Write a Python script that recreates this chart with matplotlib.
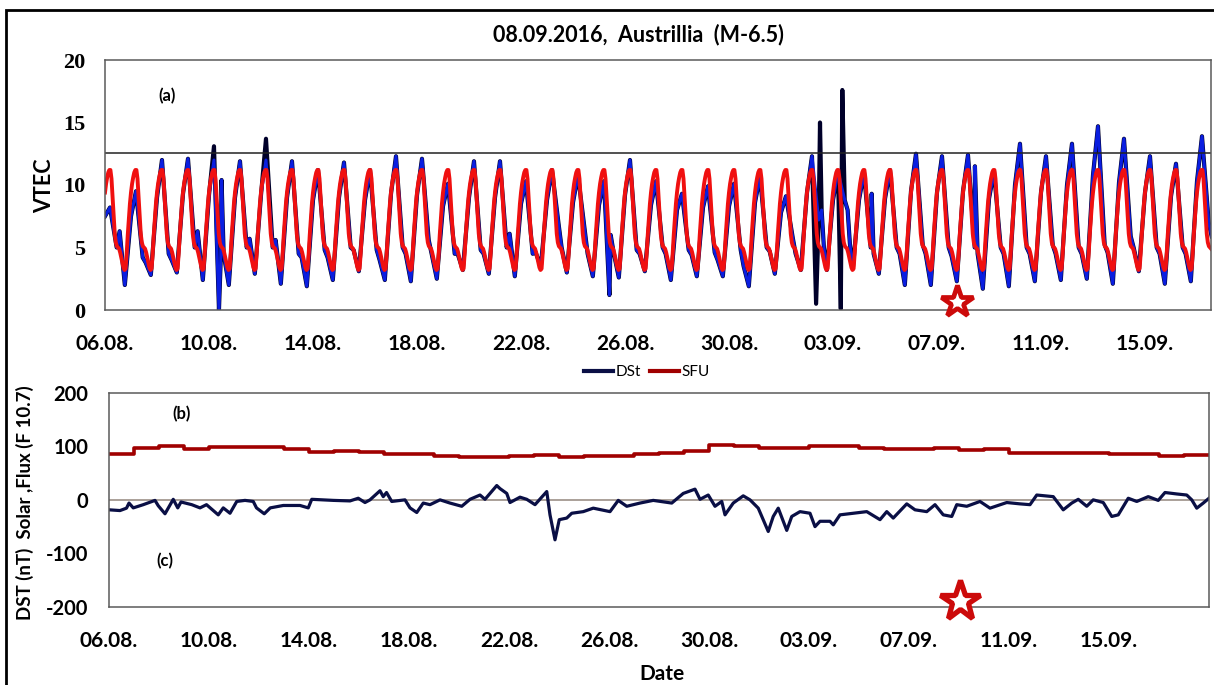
import numpy as np
import matplotlib
matplotlib.use('Agg')
import matplotlib.pyplot as plt
from matplotlib.lines import Line2D
from matplotlib.patches import Rectangle
from datetime import date, timedelta

W, H = 1214, 685
START = date(2016, 8, 6)
SANS = ['Lato', 'DejaVu Sans']

# mean diurnal VTEC (red curve), hourly 00..23 UT, repeated every day
mean_profile = [9.4, 10.1, 10.6, 11.0, 11.2, 11.2, 10.5, 9.0, 7.4, 6.1, 5.4, 5.1,
                5.0, 4.9, 4.6, 4.2, 3.8, 3.4, 3.2, 3.3, 4.5, 6.0, 7.3, 8.5]

# observed VTEC, read per day at these UT hours
vtec_hours = [0, 4.6, 10.8, 13.5, 18.3]
vtec_days = [
    [7.5, 8.2, 5.0, 6.3, 2.0], [7.5, 9.5, 4.2, 3.8, 2.8], [9.0, 12.0, 4.5, 4.0, 3.0],
    [9.3, 12.1, 5.0, 6.3, 2.4], [9.2, 12.0, 4.0, 4.5, 2.0], [9.0, 11.9, 5.0, 5.7, 2.9],
    [9.2, 12.0, 5.0, 5.6, 2.1], [9.0, 11.9, 4.5, 4.2, 1.9], [8.8, 11.2, 4.8, 4.2, 2.4],
    [9.0, 11.8, 5.0, 4.8, 3.1], [8.8, 11.2, 4.8, 4.0, 2.4], [9.3, 12.3, 5.0, 4.5, 2.3],
    [9.2, 12.1, 5.6, 4.5, 2.5], [8.3, 10.1, 4.5, 4.5, 3.2], [9.0, 11.9, 4.8, 4.5, 2.9],
    [9.0, 11.9, 5.0, 6.1, 2.7], [8.5, 10.3, 4.5, 4.6, 3.5], [8.8, 11.2, 6.8, 5.0, 3.0],
    [8.6, 10.8, 6.4, 4.5, 2.7], [8.4, 10.3, 6.0, 4.6, 2.6], [9.2, 12.0, 4.8, 4.5, 3.1],
    [8.4, 10.3, 5.0, 4.5, 2.4], [8.0, 9.3, 4.8, 4.4, 2.7], [8.2, 9.9, 4.6, 4.0, 2.7],
    [8.3, 10.1, 4.8, 3.5, 1.9], [8.6, 10.7, 5.0, 4.7, 2.9], [7.8, 9.1, 5.8, 4.5, 3.2],
    [9.4, 12.3, 7.2, 8.0, 3.2], [8.8, 11.1, 8.8, 8.0, 3.3], [8.8, 11.0, 5.0, 4.5, 2.9],
    [8.9, 11.2, 5.0, 4.5, 2.0], [9.5, 12.5, 5.2, 4.5, 2.0], [9.4, 12.3, 5.0, 4.3, 2.3],
    [9.5, 12.4, 5.0, 4.5, 1.7], [8.9, 11.1, 5.0, 4.5, 1.9], [10.0, 13.3, 5.0, 4.5, 2.3],
    [9.4, 12.3, 5.2, 4.5, 2.4], [10.0, 13.3, 5.0, 4.5, 2.5], [10.8, 14.7, 5.2, 4.6, 2.1],
    [10.2, 13.7, 5.9, 5.0, 3.1], [9.4, 12.3, 5.0, 4.5, 2.1], [9.1, 11.7, 5.0, 4.5, 2.3],
    [10.3, 13.9, 7.0, 5.9],
]
# (day, UT hour, value) spikes
common_extra = [(4, 9.2, 0.0), (4, 11.6, 10.4), (19, 9.6, 1.2), (27, 15.6, 5.0),
                (28, 15.6, 5.3), (29, 11.7, 9.3), (33, 11.0, 11.5)]
dark_extra = [(4, 4.6, 13.1), (6, 4.6, 13.7), (27, 8.4, 0.5), (27, 12.0, 15.0),
              (28, 7.2, 0.1), (28, 8.6, 17.6)]
vtec_hours_total = 1022
upper_line = 12.6

# solar flux F10.7, daily
sfu = [85, 96, 100, 95, 99, 99, 99, 94, 89, 92, 89, 85, 85, 82, 79.5, 79.5, 81, 84,
       79.5, 81, 82.6, 85, 88, 91, 103, 100.6, 97, 97, 100.6, 100.6, 97, 95, 95,
       97.4, 93, 95.7, 87, 87, 87, 87, 85, 85, 81.4, 84]

# Dst index (day offset, nT)
dst_t = [0.00, 0.44, 0.70, 0.80, 0.97, 1.37, 1.84, 1.97, 2.24, 2.57, 2.75, 2.88, 3.31,
         3.64, 3.90, 4.37, 4.57, 4.84, 5.11, 5.44, 5.77, 5.90, 6.21, 6.45, 6.97, 7.64,
         7.97, 8.11, 8.97, 9.64, 9.97, 10.24, 10.44, 10.84, 10.97, 11.10, 11.31, 11.84,
         12.04, 12.31, 12.57, 12.84, 13.24, 13.64, 14.11, 14.44, 14.84, 15.04, 15.51,
         15.64, 15.91, 16.04, 16.44, 16.71, 17.04, 17.51, 17.64, 17.84, 18.01, 18.31,
         18.51, 18.97, 19.37, 20.04, 20.37, 20.71, 21.24, 21.77, 22.51, 22.97, 23.44,
         23.64, 23.97, 24.24, 24.51, 24.64, 24.97, 25.37, 25.64, 25.97, 26.37, 26.57,
         26.77, 27.11, 27.31, 27.64, 28.04, 28.24, 28.44, 28.84, 28.97, 29.24, 29.77,
         30.31, 30.84, 31.11, 31.37, 31.91, 32.24, 32.71, 33.04, 33.37, 33.71, 33.91,
         34.31, 34.84, 35.24, 35.91, 36.44, 36.84, 37.11, 37.77, 38.17, 38.51, 38.77,
         39.11, 39.37, 39.77, 40.11, 40.37, 40.77, 41.11, 41.57, 41.97, 42.24, 42.71,
         43.11, 43.31, 43.51, 43.77, 44.00]
dst_v = [-18.6, -20, -15.5, -6, -15, -9, -1, -11, -26, 1, -15, -4, -9,
         -15, -9, -28, -15, -25, -3, -1, -3, -15, -26, -15, -10.5, -10.5,
         -15, 1, -1, -2, 3, -5, 0, 17, 6, 13.7, -3, 0,
         -15, -23.6, -6, -9, 0, -6, -12, 1, 9, 1, 26.7,
         21, 12, -5, 5, 1, -9, 15.5, -28, -74.6, -37, -34,
         -25, -22, -15.5, -22, -1, -12, -6, -1, -6, 12, 20,
         1, 9, -12, -3, -28, -6, 7.5, 0, -15.5, -59, -31,
         -15.5, -57, -31, -22, -25, -50, -40, -40, -46.6, -28, -25,
         -22, -37, -22, -34, -7.5, -18.6, -22, -9, -28, -31, -9,
         -12, -3, -15.5, -5, -7.5, -9, 9, 6, -18.6, -6, 1,
         -12, 0, -5, -31, -28, 3, -3, 6, -1, 13.7, 11,
         9, 0, -15.5, -6, 3]

quake_top = (32.77, 0.64)
quake_bottom = (34.04, -188)


def build_series(extras):
    pts = {}
    for d, vals in enumerate(vtec_days):
        for h, v in zip(vtec_hours, vals):
            pts[round(d + h / 24, 4)] = v
    for d, h, v in extras:
        pts[round(d + h / 24, 4)] = v
    t = sorted(pts)
    return t, [pts[k] for k in t]


def date_labels(days):
    return [(START + timedelta(days=int(d))).strftime('%d.%m.') for d in days]


fig = plt.figure(figsize=(W / 100, H / 100), dpi=100)

# ---- panel (a): VTEC
ax1 = fig.add_axes([105 / W, 1 - 310 / H, 1106 / W, 250 / H])
tb, vb = build_series(common_extra)
td, vd = build_series(common_extra + dark_extra)
t_red = np.arange(vtec_hours_total) / 24
v_red = np.tile(mean_profile, 43)[:vtec_hours_total]
ax1.plot(td, vd, color='#00002a', lw=3.0)
ax1.plot(tb, vb, color='#0a1ee0', lw=2.2)
ax1.plot(t_red, v_red, color='#f01010', lw=2.8)
ax1.axhline(upper_line, color='#222222', lw=1.1)
ax1.plot(*quake_top, marker='*', ms=24, mfc='white', mec='#cc0a0a', mew=3.4,
         clip_on=False, zorder=5)
ax1.set_xlim(0, 1106 / 26)
ax1.set_ylim(0, 20)
ticks = list(range(0, 43, 4))
ax1.set_xticks(ticks)
ax1.set_xticklabels(date_labels(ticks), fontfamily=SANS, fontweight='bold', fontsize=15)
ax1.set_yticks([0, 5, 10, 15, 20])
ax1.set_yticklabels(['0', '5', '10', '15', '20'], fontfamily='Liberation Serif',
                    fontweight='bold', fontsize=16)
ax1.tick_params(length=0, axis='x', pad=17)
ax1.tick_params(length=0, axis='y', pad=14)
ax1.text(0.056, 0.857, '(a)', transform=ax1.transAxes, ha='center', va='center',
         fontfamily=SANS, fontweight='bold', fontsize=12)

# ---- panel (b)/(c): SFU and Dst
ax2 = fig.add_axes([109 / W, 1 - 607 / H, 1100 / W, 214.3 / H])
sfu_t = list(range(len(sfu) + 1))
ax2.plot(sfu_t, sfu + [sfu[-1]], drawstyle='steps-post', color='#a00000', lw=2.6)
ax2.plot(dst_t, dst_v, color='#0a0f45', lw=2.3)
ax2.axhline(0, color='#9c9087', lw=1.2, zorder=1)
ax2.plot(*quake_bottom, marker='*', ms=30, mfc='white', mec='#cc0a0a', mew=3.8,
         clip_on=False, zorder=5)
ax2.set_xlim(0, 44)
ax2.set_ylim(-200, 200)
ticks2 = list(range(0, 41, 4))
ax2.set_xticks(ticks2)
ax2.set_xticklabels(date_labels(ticks2), fontfamily=SANS, fontweight='bold', fontsize=15)
ax2.set_yticks([-200, -100, 0, 100, 200])
ax2.set_yticklabels(['-200', '-100', '0', '100', '200'], fontfamily=SANS,
                    fontweight='bold', fontsize=14.5)
ax2.tick_params(length=0, axis='x', pad=17)
ax2.tick_params(length=0, axis='y', pad=15)
ax2.text(0.066, 0.9, '(b)', transform=ax2.transAxes, ha='center', va='center',
         fontfamily=SANS, fontweight='bold', fontsize=12)
ax2.text(0.051, 0.215, '(c)', transform=ax2.transAxes, ha='center', va='center',
         fontfamily=SANS, fontweight='bold', fontsize=12)

for ax in (ax1, ax2):
    for sp in ax.spines.values():
        sp.set_color('#5a5a5a')
        sp.set_linewidth(1.1)

# ---- texts, legend, frame
fig.text(638 / W, 1 - 35 / H, '08.09.2016,  Austrillia  (M-6.5)', ha='center',
         va='center', fontfamily=SANS, fontweight='bold', fontsize=15.5)
fig.text(45 / W, 1 - 186 / H, 'VTEC', rotation=90, ha='center', va='center',
         fontfamily=SANS, fontweight='bold', fontsize=15.5)
fig.text(25 / W, 1 - 503 / H, 'DST (nT)  Solar ,Flux (F 10.7)', rotation=90,
         ha='center', va='center', fontfamily=SANS, fontweight='bold', fontsize=13.5)
fig.text(662 / W, 1 - 684 / H, 'Date', ha='center', va='bottom',
         fontfamily=SANS, fontweight='bold', fontsize=15)

handles = [Line2D([], [], color='#0a0f45', lw=3), Line2D([], [], color='#a00000', lw=3)]
fig.legend(handles, ['DSt', 'SFU'], loc='center', bbox_to_anchor=(647 / W, 1 - 372 / H),
           ncol=2, frameon=False, handlelength=1.9, handletextpad=0.15,
           columnspacing=0.6, prop={'family': SANS, 'size': 11})

fig.patches.append(Rectangle((6 / W, -0.05), 1.2, 1 - 10 / H + 0.05, fill=False,
                             edgecolor='black', lw=2, transform=fig.transFigure))

fig.savefig('out.png', dpi=100)
